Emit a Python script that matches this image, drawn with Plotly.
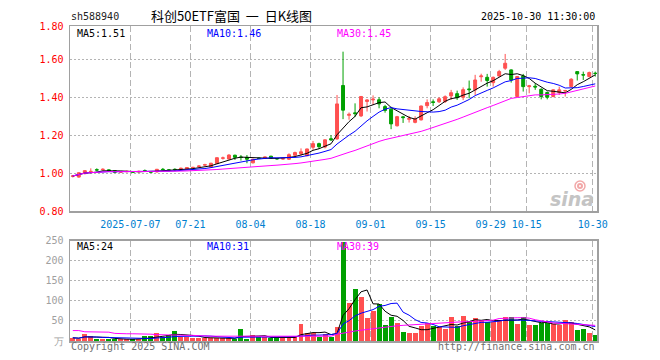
import plotly.graph_objects as go
import pandas as pd

# ---------------- data ----------------
dates = [
    "2025-06-23", "2025-06-24", "2025-06-25", "2025-06-26", "2025-06-27", "2025-06-30",
    "2025-07-01", "2025-07-02", "2025-07-03", "2025-07-04", "2025-07-07", "2025-07-08",
    "2025-07-09", "2025-07-10", "2025-07-11", "2025-07-14", "2025-07-15", "2025-07-16",
    "2025-07-17", "2025-07-18", "2025-07-21", "2025-07-22", "2025-07-23", "2025-07-24",
    "2025-07-25", "2025-07-28", "2025-07-29", "2025-07-30", "2025-07-31", "2025-08-01",
    "2025-08-04", "2025-08-05", "2025-08-06", "2025-08-07", "2025-08-08", "2025-08-11",
    "2025-08-12", "2025-08-13", "2025-08-14", "2025-08-15", "2025-08-18", "2025-08-19",
    "2025-08-20", "2025-08-21", "2025-08-22", "2025-08-25", "2025-08-26", "2025-08-27",
    "2025-08-28", "2025-08-29", "2025-09-01", "2025-09-02", "2025-09-03", "2025-09-04",
    "2025-09-05", "2025-09-08", "2025-09-09", "2025-09-10", "2025-09-11", "2025-09-12",
    "2025-09-15", "2025-09-16", "2025-09-17", "2025-09-18", "2025-09-19", "2025-09-22",
    "2025-09-23", "2025-09-24", "2025-09-25", "2025-09-26", "2025-09-29", "2025-09-30",
    "2025-10-09", "2025-10-10", "2025-10-13", "2025-10-14", "2025-10-15", "2025-10-16",
    "2025-10-17", "2025-10-20", "2025-10-21", "2025-10-22", "2025-10-23", "2025-10-24",
    "2025-10-27", "2025-10-28", "2025-10-29", "2025-10-30",
]

opens = [
    0.984, 0.980, 0.998, 1.008, 1.019, 1.019, 1.018, 1.014, 1.006, 1.008,
    1.007, 1.008, 1.014, 1.009, 1.007, 1.021, 1.018, 1.021, 1.024, 1.022,
    1.029, 1.036, 1.043, 1.033, 1.051, 1.079, 1.075, 1.095, 1.086, 1.084,
    1.055, 1.080, 1.079, 1.090, 1.078, 1.075, 1.074, 1.095, 1.103, 1.092,
    1.137, 1.156, 1.138, 1.182, 1.181, 1.462, 1.305, 1.318, 1.302, 1.378,
    1.386, 1.387, 1.351, 1.337, 1.250, 1.297, 1.284, 1.268, 1.281, 1.356,
    1.376, 1.376, 1.378, 1.407, 1.419, 1.400, 1.444, 1.439, 1.508, 1.505,
    1.477, 1.512, 1.553, 1.544, 1.404, 1.512, 1.456, 1.458, 1.442, 1.425,
    1.404, 1.425, 1.433, 1.456, 1.535, 1.519, 1.509, 1.527,
]
highs = [
    0.990, 1.005, 1.016, 1.026, 1.026, 1.026, 1.020, 1.016, 1.010, 1.014,
    1.010, 1.014, 1.020, 1.012, 1.023, 1.028, 1.022, 1.026, 1.030, 1.032,
    1.034, 1.042, 1.050, 1.055, 1.084, 1.088, 1.100, 1.098, 1.096, 1.096,
    1.076, 1.082, 1.088, 1.092, 1.080, 1.080, 1.105, 1.114, 1.131, 1.130,
    1.170, 1.161, 1.178, 1.200, 1.412, 1.640, 1.320, 1.368, 1.407, 1.390,
    1.410, 1.400, 1.360, 1.350, 1.302, 1.302, 1.302, 1.300, 1.356, 1.389,
    1.389, 1.400, 1.410, 1.439, 1.435, 1.452, 1.488, 1.518, 1.524, 1.523,
    1.509, 1.544, 1.628, 1.547, 1.512, 1.523, 1.465, 1.474, 1.447, 1.430,
    1.442, 1.456, 1.439, 1.500, 1.535, 1.535, 1.535, 1.535,
]
lows = [
    0.978, 0.977, 0.995, 1.000, 1.010, 1.015, 1.009, 1.004, 1.003, 1.005,
    1.003, 1.004, 1.008, 1.003, 1.005, 1.015, 1.010, 1.012, 1.020, 1.020,
    1.025, 1.032, 1.038, 1.031, 1.050, 1.072, 1.073, 1.070, 1.067, 1.053,
    1.052, 1.076, 1.077, 1.078, 1.072, 1.072, 1.070, 1.088, 1.093, 1.090,
    1.123, 1.128, 1.131, 1.170, 1.176, 1.285, 1.282, 1.296, 1.296, 1.325,
    1.360, 1.342, 1.319, 1.232, 1.246, 1.265, 1.267, 1.263, 1.278, 1.342,
    1.354, 1.370, 1.370, 1.386, 1.386, 1.385, 1.395, 1.412, 1.482, 1.456,
    1.456, 1.509, 1.544, 1.477, 1.400, 1.430, 1.421, 1.439, 1.389, 1.389,
    1.400, 1.412, 1.404, 1.451, 1.488, 1.491, 1.505, 1.509,
]
closes = [
    0.986, 1.003, 1.014, 1.010, 1.017, 1.021, 1.011, 1.005, 1.008, 1.010,
    1.006, 1.010, 1.012, 1.006, 1.021, 1.019, 1.016, 1.019, 1.026, 1.030,
    1.031, 1.038, 1.045, 1.053, 1.082, 1.081, 1.096, 1.084, 1.083, 1.074,
    1.074, 1.078, 1.086, 1.080, 1.076, 1.077, 1.098, 1.109, 1.113, 1.128,
    1.156, 1.140, 1.176, 1.176, 1.365, 1.332, 1.310, 1.314, 1.404, 1.386,
    1.390, 1.365, 1.331, 1.260, 1.298, 1.293, 1.288, 1.286, 1.354, 1.372,
    1.373, 1.392, 1.403, 1.424, 1.398, 1.440, 1.440, 1.491, 1.512, 1.488,
    1.505, 1.535, 1.579, 1.491, 1.509, 1.456, 1.460, 1.454, 1.404, 1.400,
    1.439, 1.439, 1.435, 1.495, 1.523, 1.517, 1.530, 1.525,
]
# volume (万)
volumes = [
    8, 6, 17, 12, 6, 5, 5, 4, 4, 5,
    4, 5, 12, 12, 20, 10, 16, 25, 10, 10,
    8, 8, 7, 7, 7, 7, 7, 5, 29, 5,
    14, 9, 9, 7, 7, 9, 11, 10, 42, 21,
    21, 10, 17, 11, 34, 247, 94, 129, 109, 57,
    74, 92, 39, 59, 44, 22, 19, 19, 37, 44,
    37, 35, 30, 60, 37, 62, 50, 57, 52, 47,
    47, 53, 60, 59, 42, 60, 39, 41, 46, 44,
    42, 39, 52, 47, 27, 30, 20, 14,
]
# 30-day volume average as drawn (window reaches before the visible range)
volume_ma30 = [
    26, 26, 23, 23, 22, 22, 22, 19, 18, 18,
    18, 18, 17, 17, 16, 15, 15, 15, 14, 14,
    14, 13, 13, 12, 12, 12, 12, 12, 11, 11,
    11, 11, 11, 11, 11, 11, 11, 11, 11, 11,
    12, 12, 12, 12, 17, 19, 22, 25, 27, 29,
    31, 33, 35, 37, 38, 39, 40, 41, 42, 42,
    43, 44, 45, 46, 47, 48, 48, 49, 49, 50,
    52, 56, 57, 58, 58, 58, 57, 53, 50, 47,
    45, 44, 43, 42, 41, 41, 40, 39,
]

tick_dates = ["2025-07-07", "2025-07-21", "2025-08-04", "2025-08-18", "2025-09-01",
              "2025-09-15", "2025-09-29", "2025-10-15", "2025-10-30"]
tick_labels = ["2025-07-07", "07-21", "08-04", "08-18", "09-01",
               "09-15", "09-29", "10-15", "10-30"]

price_ticks = [0.80, 1.00, 1.20, 1.40, 1.60]
price_tick_labels = ["0.80", "1.00", "1.20", "1.40", "1.60", "1.80"]
vol_ticks = [0, 50, 100, 150, 200, 250]
vol_tick_labels = ["万", "50", "100", "150", "200", "250"]

code = "sh588940"
title = "科创50ETF富国\u00a0\u00a0一\u00a0\u00a0日K线图"
timestamp = "2025-10-30 11:30:00"
price_ma_labels = ["MA5:1.51", "MA10:1.46", "MA30:1.45"]
vol_ma_labels = ["MA5:24", "MA10:31", "MA30:39"]

# ---------------- derived ----------------
n = len(dates)
for arr in (opens, highs, lows, closes, volumes, volume_ma30):
    assert len(arr) == n
idx = list(range(n))
cs = pd.Series(closes)
ma5 = cs.rolling(5, min_periods=1).mean()
ma10 = cs.rolling(10, min_periods=1).mean()
ma30 = cs.rolling(30, min_periods=1).mean()
vs = pd.Series(volumes, dtype=float)
vma5 = vs.rolling(5, min_periods=1).mean()
vma10 = vs.rolling(10, min_periods=1).mean()

RED = "#ff5050"
GREEN = "#00a000"
vol_colors = [RED if c >= o else GREEN for o, c in zip(opens, closes)]

# gridlines sit at the left edge of each bar
edge = 0.416
grid_x = [dates.index(d) - edge for d in tick_dates]

MONO = "DejaVu Sans Mono"
GRID = "#b4b4b4"
BORDER = "#a0a0a0"

fig = go.Figure()
fig.add_trace(go.Candlestick(
    x=idx, open=opens, high=highs, low=lows, close=closes,
    increasing=dict(line=dict(color=RED, width=1), fillcolor=RED),
    decreasing=dict(line=dict(color=GREEN, width=1), fillcolor=GREEN),
    whiskerwidth=0, xaxis="x", yaxis="y", hoverinfo="skip",
))
for s, col in ((ma5, "#000000"), (ma10, "#0000ff"), (ma30, "#ff00ff")):
    fig.add_trace(go.Scatter(x=idx, y=s, mode="lines", line=dict(color=col, width=1),
                             xaxis="x", yaxis="y", hoverinfo="skip"))

fig.add_trace(go.Bar(x=idx, y=volumes, width=0.83, marker=dict(color=vol_colors, line=dict(width=0)),
                     xaxis="x2", yaxis="y2", hoverinfo="skip"))
for s, col in ((vma5, "#000000"), (vma10, "#0000ff"), (volume_ma30, "#ff00ff")):
    fig.add_trace(go.Scatter(x=idx, y=s, mode="lines", line=dict(color=col, width=1),
                             xaxis="x2", yaxis="y2", hoverinfo="skip"))

# plot-area geometry (pixels)
L, R, T, B = 70, 597, 26, 341
W, H = R - L, B - T


def px(xp):
    return (xp - L) / W


def py(yp):
    return (B - yp) / H


xr = [-0.466, 87.29]
common_x = dict(range=xr, tickvals=grid_x, showgrid=True, gridcolor=GRID, griddash="6px,3px",
                gridwidth=1, showline=True, linecolor=BORDER, linewidth=1.5, mirror=True,
                zeroline=False, ticks="outside", ticklen=3, tickcolor="rgba(0,0,0,0)")

fig.update_layout(
    width=660, height=360,
    margin=dict(l=L, r=660 - R, t=T, b=360 - B),
    paper_bgcolor="white", plot_bgcolor="white",
    showlegend=False, hovermode=False, boxgap=0.3, bargap=0,
    font=dict(family=MONO, size=10, color="#000"),
    xaxis=dict(domain=[0, 1], anchor="y", ticktext=tick_labels,
               tickfont=dict(family=MONO, size=10, color="#0080d0"),
               rangeslider=dict(visible=False), **common_x),
    yaxis=dict(domain=[py(211.3), 1], range=[0.80, 1.775],
               tickvals=price_ticks + [1.775], ticktext=price_tick_labels,
               tickfont=dict(family=MONO, size=10, color="#ff0000"),
               showgrid=True, gridcolor=GRID, griddash="2px,2px", gridwidth=1,
               showline=True, linecolor=BORDER, linewidth=1.5, mirror=True, zeroline=False,
               ticks="outside", ticklen=3, tickcolor="rgba(0,0,0,0)"),
    xaxis2=dict(domain=[0, 1], anchor="y2", showticklabels=False, **common_x),
    yaxis2=dict(domain=[0, py(240.7)], range=[0, 250], anchor="x2",
                tickvals=vol_ticks, ticktext=vol_tick_labels,
                tickfont=dict(family=MONO, size=10, color="#a0a0a0"),
                showgrid=True, gridcolor=GRID, griddash="2px,2px", gridwidth=1,
                showline=True, linecolor=BORDER, linewidth=1.5, mirror=True, zeroline=False,
                ticks="outside", ticklen=3, tickcolor="rgba(0,0,0,0)"),
)


def label(text, x, y, color="#000", anchor="left", size=10, family=MONO):
    fig.add_annotation(text=text, x=px(x), y=py(y), xref="paper", yref="paper",
                       xanchor=anchor, yanchor="middle", showarrow=False,
                       font=dict(family=family, size=size, color=color))


label(code, 69, 16.5, color="#222")
label(title, 231, 15.5, anchor="center", size=13, family="Noto Sans CJK SC")
label(timestamp, 597, 16.5, anchor="right", color="#000")

ma_cols = ["#000000", "#0000ff", "#ff00ff"]
for t, x0, c in zip(price_ma_labels, (75, 205, 335), ma_cols):
    label(t, x0, 33, color=c)
for t, x0, c in zip(vol_ma_labels, (75, 205, 335), ma_cols):
    label(t, x0, 246, color=c)

label("Copyright 2025 SINA.COM", 69, 346.5, color="#707070")
label("http://finance.sina.com.cn", 597, 346.5, anchor="right", color="#707070")
label("<b><i>sina</i></b>", 596, 199, anchor="right", size=19, color="#c4c4c4",
      family="DejaVu Sans")

# small "eye" mark of the watermark logo
for r, w in ((5, 1.5), (2, 2)):
    fig.add_shape(type="circle", xref="paper", yref="paper",
                  x0=px(580 - r), x1=px(580 + r), y0=py(186 + r), y1=py(186 - r),
                  line=dict(color="#f2a8a8", width=w), fillcolor="rgba(0,0,0,0)")

fig.write_html("out.html",
               config={"displayModeBar": False, "staticPlot": True},
               post_script="document.body.style.margin='0px';document.body.style.overflow='hidden';")
